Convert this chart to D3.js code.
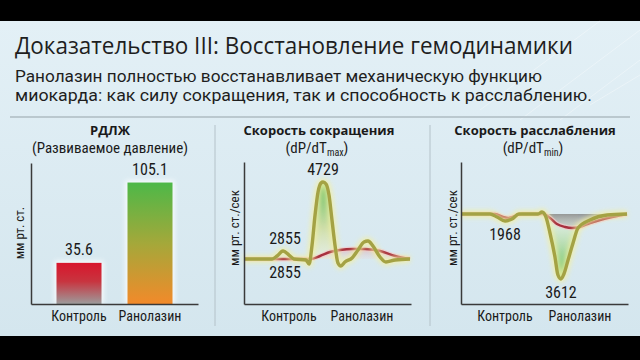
<!DOCTYPE html>
<html><head><meta charset="utf-8">
<script src="https://cdn.jsdelivr.net/npm/d3@7/dist/d3.min.js"></script>
<style>html,body{margin:0;padding:0;background:#000;overflow:hidden}svg{display:block}</style>
</head><body>
<script>
// ---------- data ----------
const titleText = "Доказательство III: Восстановление гемодинамики";
const subtitleLines = [
  "Ранолазин полностью восстанавливает механическую функцию",
  "миокарда: как силу сокращения, так и способность к расслаблению."
];
const categories = ["Контроль", "Ранолазин"];
const pressureValues = [35.6, 105.1];
const pressureLabels = ["35.6", "105.1"];
const panelTitles = ["РДЛЖ", "Скорость сокращения", "Скорость расслабления"];
const panelSubtitles = [["(Развиваемое давление)", ""], ["(dP/dT", "max"], ["(dP/dT", "min"]];
const yAxisLabels = ["мм рт. ст.", "мм рт. ст./сек", "мм рт. ст./сек"];

// curve samples: [time (0-100), mm Hg/s]
const contractionControl = [[0,2855],[39.8,2855],[45.8,2928],[51.8,3025],[57.8,3074],[65.7,3098],[72.9,3098],[81.9,3050],[91,2928],[100,2855]];
const contractionRanolazine = [[0,2855],[16.9,2855],[19.9,2928],[23.5,3050],[27.1,2952],[30.1,2855],[37.3,2831],[39.2,2733],[41.0,3196],[42.8,3926],[44.6,4486],[46.4,4705],[47.6,4729],[49.4,4681],[51.2,4413],[53.0,3804],[54.8,3196],[56.6,2758],[58.4,2685],[60.8,2782],[65.1,2880],[68.7,3074],[72.3,3269],[74.7,3293],[77.7,3171],[81.9,2904],[85.5,2782],[91,2831],[100,2855]];
const contractionMarks = [
  {label: "4729", t: 47.6, v: 4729, pos: "above"},
  {label: "2855", t: 24.7, v: 3050, pos: "above"},
  {label: "2855", t: 24.7, v: 2855, pos: "below"}
];
const relaxationControl = [[0,0],[20.5,0],[25.3,-167],[28.3,-222],[32.5,-111],[36.7,0],[49.4,0],[53.6,-222],[57.8,-556],[62.7,-722],[66.9,-778],[71.7,-722],[77.7,-500],[83.7,-333],[91.0,-167],[100,0]];
const relaxationRanolazine = [[0,0],[17.5,0],[21.7,-167],[26.5,-389],[30.7,-278],[34.9,0],[46.4,0],[48.8,111],[51.2,-167],[53.6,-1056],[56.6,-2390],[58.4,-3390],[60.2,-3612],[62.0,-3334],[64.5,-2556],[67.5,-1612],[70.5,-778],[77.7,-333],[88.0,-56],[100,0]];
const relaxationMarks = [
  {label: "1968", t: 26.5, v: -389, pos: "below"},
  {label: "3612", t: 60.2, v: -3612, pos: "below"}
];

// ---------- drawing ----------
const W = 640, H = 360;
const narrow = "'Liberation Sans Narrow','Roboto Condensed','Arial Narrow',Roboto,sans-serif";
const headFont = "'Open Sans','Noto Sans',sans-serif";
const subFont = "Roboto,'Open Sans',sans-serif";
const svg = d3.select("body").append("svg").attr("width", W).attr("height", H);
const defs = svg.append("defs");

function vgrad(id, stops) {
  const g = defs.append("linearGradient").attr("id", id).attr("x1", 0).attr("y1", 0).attr("x2", 0).attr("y2", 1);
  stops.forEach(s => g.append("stop").attr("offset", s[0]).attr("stop-color", s[1]).attr("stop-opacity", s[2] == null ? 1 : s[2]));
}
vgrad("bg", [[0, "#e3f0f6"], [1, "#d4e6ee"]]);
vgrad("barCtrl", [[0, "#d8162c"], [0.45, "#c8343f"], [1, "#9c9c9c"]]);
vgrad("barRano", [[0, "#4db848"], [0.5, "#a4a83a"], [1, "#f28a2a"]]);
vgrad("peakFill", [[0, "#3bb04a", 0.95], [0.6, "#c9d98a", 0.7], [1, "#f4f2c0", 0.3]]);
vgrad("humpFill", [[0, "#d8a0a8", 0.55], [1, "#e8d0d4", 0.2]]);
vgrad("troughFill", [[0, "#f2f5e8", 0.5], [0.5, "#a8d89a", 0.8], [1, "#3cb44a", 1]]);
vgrad("grayFill", [[0, "#7a7a7a", 0.75], [1, "#b0b0b0", 0.35]]);

const glow = defs.append("filter").attr("id", "glow").attr("x", "-20%").attr("y", "-20%").attr("width", "140%").attr("height", "140%");
glow.append("feGaussianBlur").attr("stdDeviation", 2.5);

// background + letterbox
svg.append("rect").attr("width", W).attr("height", H).attr("fill", "#000");
svg.append("rect").attr("x", 0).attr("y", 21).attr("width", W).attr("height", 315).attr("fill", "url(#bg)");
const deco = svg.append("g").attr("stroke", "#ffffff").attr("stroke-opacity", 0.35).attr("stroke-width", 1);
[[520, 120, 640, 30], [560, 120, 640, 60], [480, 110, 600, 21], [590, 105, 640, 75]].forEach(l =>
  deco.append("line").attr("x1", l[0]).attr("y1", l[1]).attr("x2", l[2]).attr("y2", l[3]));

// title & subtitle
svg.append("text").attr("x", 15).attr("y", 54).attr("font-family", headFont).attr("font-size", 24)
  .attr("fill", "#1e1e1e").attr("textLength", 558).attr("lengthAdjust", "spacingAndGlyphs").text(titleText);
const subLens = [527, 577];
subtitleLines.forEach((s, i) => svg.append("text").attr("x", 15).attr("y", 82 + i * 19)
  .attr("font-family", subFont).attr("font-size", 16).attr("fill", "#1e1e1e")
  .attr("textLength", subLens[i]).attr("lengthAdjust", "spacingAndGlyphs").text(s));
svg.append("line").attr("x1", 10).attr("x2", 630).attr("y1", 117).attr("y2", 117).attr("stroke", "#aebbc2").attr("stroke-width", 1.5);
[215, 430].forEach(x => svg.append("line").attr("x1", x).attr("x2", x).attr("y1", 125).attr("y2", 326)
  .attr("stroke", "#b4c2c9").attr("stroke-width", 1));

// panel headers
const panelCenters = [110, 319, 535];
panelTitles.forEach((t, i) => {
  svg.append("text").attr("x", panelCenters[i]).attr("y", 135).attr("text-anchor", "middle")
    .attr("font-family", headFont).attr("font-weight", 700).attr("font-size", 13).attr("fill", "#1a1a1a").text(t);
  const st = svg.append("text").attr("x", panelCenters[i] - (i ? 2 : 0)).attr("y", 153).attr("text-anchor", "middle")
    .attr("font-family", narrow).attr("font-size", 15).attr("fill", "#1a1a1a");
  st.append("tspan").text(panelSubtitles[i][0]);
  if (panelSubtitles[i][1]) {
    st.append("tspan").attr("font-size", 10).attr("dy", 3).text(panelSubtitles[i][1]);
    st.append("tspan").attr("dy", -3).text(")");
  }
});

function yLabel(text, x, y) {
  svg.append("text").attr("transform", `translate(${x},${y}) rotate(-90)`).attr("text-anchor", "middle")
    .attr("font-family", narrow).attr("font-size", 13).attr("fill", "#1a1a1a").text(text);
}
function styleAxis(g) {
  g.select(".domain").attr("stroke", "#3a3a3a").attr("stroke-width", 1.5);
}
function catLabels(xs, y) {
  categories.forEach((c, i) => svg.append("text").attr("x", xs(c)).attr("y", y).attr("text-anchor", "middle")
    .attr("font-family", narrow).attr("font-size", 14).attr("fill", "#1a1a1a").text(c));
}

// ---- Panel 1: bars ----
const x1 = d3.scaleBand().domain(categories).range([31, 198]).paddingInner(0.366).paddingOuter(0.359);
const y1 = d3.scaleLinear().domain([0, 122]).range([304, 163]);
const barFills = ["url(#barCtrl)", "url(#barRano)"];
const p1 = svg.append("g");
p1.selectAll("rect.glow").data(pressureValues).join("rect")
  .attr("x", (d, i) => x1(categories[i]) - 2).attr("y", d => y1(d) - 2)
  .attr("width", x1.bandwidth() + 4).attr("height", d => y1(0) - y1(d) + 2)
  .attr("fill", "#ffffff").attr("opacity", 0.8).attr("filter", "url(#glow)");
p1.selectAll("rect.bar").data(pressureValues).join("rect").attr("class", "bar")
  .attr("x", (d, i) => x1(categories[i])).attr("y", d => y1(d))
  .attr("width", x1.bandwidth()).attr("height", d => y1(0) - y1(d)).attr("fill", (d, i) => barFills[i]);
p1.selectAll("text.val").data(pressureValues).join("text").attr("class", "val")
  .attr("x", (d, i) => x1(categories[i]) + x1.bandwidth() / 2).attr("y", d => y1(d) - 8)
  .attr("text-anchor", "middle").attr("font-family", narrow).attr("font-size", 16).attr("fill", "#1a1a1a")
  .text((d, i) => pressureLabels[i]);
svg.append("g").attr("transform", "translate(31,0)").call(d3.axisLeft(y1).ticks(0).tickSizeOuter(0)).call(styleAxis);
svg.append("g").attr("transform", "translate(0,304)").call(d3.axisBottom(x1).tickValues([]).tickSizeOuter(0)).call(styleAxis);
catLabels(c => x1(c) + x1.bandwidth() / 2, 321);
yLabel(yAxisLabels[0], 24, 233);

// ---- generic curve panel ----
function curvePanel(opt) {
  const x = d3.scaleLinear().domain([0, 100]).range(opt.xr);
  const y = d3.scaleLinear().domain(opt.yd).range(opt.yr);
  const g = svg.append("g");
  const line = d3.line().x(d => x(d[0])).y(d => y(d[1])).curve(d3.curveMonotoneX);
  const base = opt.yd[0];
  const area = d3.area().x(d => x(d[0])).y0(y(base)).y1(d => y(d[1])).curve(d3.curveMonotoneX);
  opt.fills(g, area);
  g.append("path").attr("d", line(opt.ctrl)).attr("fill", "none").attr("stroke", "#f2c8cc").attr("stroke-width", 5).attr("opacity", 0.7);
  g.append("path").attr("d", line(opt.ctrl)).attr("fill", "none").attr("stroke", "#a8303e").attr("stroke-width", 2.4);
  g.append("path").attr("d", line(opt.rano)).attr("fill", "none").attr("stroke", "#f3efa2").attr("stroke-width", 7).attr("opacity", 0.85).attr("filter", "url(#glow)");
  g.append("path").attr("d", line(opt.rano)).attr("fill", "none").attr("stroke", "#a4a244").attr("stroke-width", 3.4).attr("stroke-linejoin", "round");
  opt.marks.forEach(m => g.append("text").attr("x", x(m.t)).attr("y", y(m.v) + (m.pos === "above" ? -7 : 19))
    .attr("text-anchor", "middle").attr("font-family", narrow).attr("font-size", 16).attr("fill", "#1a1a1a").text(m.label));
  svg.append("g").attr("transform", `translate(${opt.xr[0]},0)`)
    .call(d3.axisLeft(d3.scaleLinear().range([opt.axisBottom, 162])).ticks(0).tickSizeOuter(0)).call(styleAxis);
  svg.append("g").attr("transform", `translate(0,${opt.axisBottom})`)
    .call(d3.axisBottom(d3.scaleLinear().range([opt.xr[0], opt.xr[1] + 1])).ticks(0).tickSizeOuter(0)).call(styleAxis);
  const xc = d3.scalePoint().domain(categories).range(opt.catX);
  catLabels(xc, 321);
  yLabel(opt.ylab, opt.ylabX, 228);
}

curvePanel({
  xr: [244, 410], yd: [2855, 4729], yr: [259, 182], axisBottom: 304,
  ctrl: contractionControl, rano: contractionRanolazine, marks: contractionMarks,
  catX: [289, 362], ylab: yAxisLabels[1], ylabX: 239,
  fills: (g, area) => {
    g.append("path").attr("d", area(contractionControl.filter(d => d[0] >= 38))).attr("fill", "url(#humpFill)");
    g.append("path").attr("d", area(contractionRanolazine.filter(d => d[0] >= 40.5 && d[0] <= 56))).attr("fill", "url(#peakFill)");
  }
});

curvePanel({
  xr: [461, 627], yd: [0, -3612], yr: [214, 279], axisBottom: 304,
  ctrl: relaxationControl, rano: relaxationRanolazine, marks: relaxationMarks,
  catX: [505, 580], ylab: yAxisLabels[2], ylabX: 457,
  fills: (g, area) => {
    g.append("path").attr("d", area(relaxationRanolazine.filter(d => d[0] >= 51 && d[0] <= 72))).attr("fill", "url(#troughFill)");
    g.append("path").attr("d", area(relaxationControl.filter(d => d[0] >= 49))).attr("fill", "url(#grayFill)");
  }
});
</script>
</body></html>
